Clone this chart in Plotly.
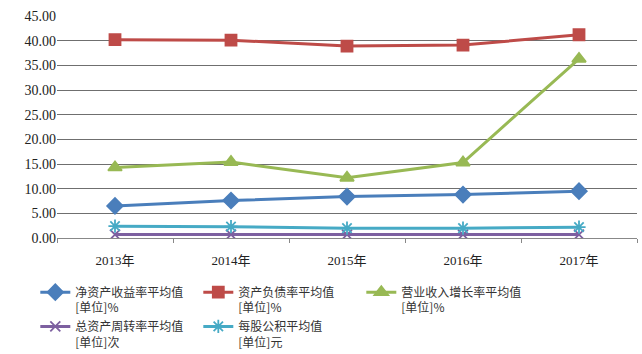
import plotly.graph_objects as go

years = ["2013年", "2014年", "2015年", "2016年", "2017年"]
roe = [6.5, 7.6, 8.4, 8.8, 9.5]
debt = [40.2, 40.1, 38.9, 39.1, 41.2]
growth = [14.3, 15.4, 12.2, 15.3, 36.3]
turnover = [0.7, 0.7, 0.7, 0.7, 0.7]
reserve = [2.4, 2.3, 2.0, 2.0, 2.2]

names = ["净资产收益率平均值<br>[单位]%", "资产负债率平均值<br>[单位]%",
         "营业收入增长率平均值<br>[单位]%", "总资产周转率平均值<br>[单位]次",
         "每股公积平均值<br>[单位]元"]
series = [roe, debt, growth, turnover, reserve]
colors = ["#4A7EBB", "#BE4B48", "#98B954", "#7D60A0", "#46AAC5"]
symbols = ["diamond", "square", "triangle-up", "x-thin", "asterisk"]
sizes = [12, 11, 12, 10, 11]

fig = go.Figure()
for n, s, c, sym, sz in zip(names, series, colors, symbols, sizes):
    fig.add_trace(go.Scatter(
        x=years, y=s, name=n, mode="lines+markers",
        line=dict(color=c, width=3),
        marker=dict(symbol=sym, size=sz, color=c, line=dict(color=c, width=1.8)),
    ))

fig.update_layout(
    width=642, height=354,
    margin=dict(l=57, r=5, t=16, b=116),
    plot_bgcolor="white", paper_bgcolor="white",
    font=dict(family="Liberation Serif, Noto Sans CJK SC", size=13, color="#222"),
    showlegend=True,
    legend=dict(orientation="h", xref="container", x=0.055, xanchor="left",
                yref="container", y=0.215, yanchor="top",
                entrywidth=118, valign="top", tracegroupgap=0,
                font=dict(family="Noto Sans CJK SC", size=12, color="#333"),
                itemwidth=30),
)
fig.update_xaxes(type="category", range=[-0.5, 4.5], showgrid=False,
                 showline=True, linecolor="#888", linewidth=1,
                 ticks="outside", tickson="boundaries", ticklen=4, tickcolor="#888",
                 ticklabelstandoff=10,
                 tickfont=dict(family="Liberation Serif, Noto Sans CJK SC", size=13))
fig.update_yaxes(range=[0, 45], dtick=5, tickformat=".2f", showgrid=True,
                 gridcolor="#6f6f6f", gridwidth=1, zeroline=False, showline=False,
                 ticks="", tickfont=dict(family="Liberation Serif", size=14))

fig.write_html("out.html")
